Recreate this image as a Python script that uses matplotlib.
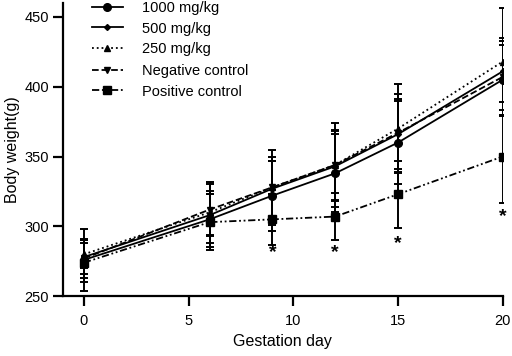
import matplotlib.pyplot as plt
from matplotlib.lines import Line2D

days = [0, 6, 9, 12, 15, 20]

w1000 = [276, 305, 322, 338, 360, 405]
w500 = [278, 308, 327, 343, 366, 411]
w250 = [280, 310, 328, 344, 370, 418]
wneg = [277, 312, 328, 344, 367, 407]
wpos = [274, 303, 305, 307, 323, 350]

sd1000 = [22, 20, 25, 28, 30, 25]
sd500 = [12, 15, 20, 25, 25, 22]
sd250 = [10, 22, 27, 30, 32, 38]
sdneg = [14, 18, 22, 25, 28, 28]
sdpos = [14, 20, 18, 17, 24, 33]

star_x = [9, 12, 15, 20]
star_y = [281, 281, 288, 307]

plt.rcParams['font.family'] = ['Liberation Sans', 'DejaVu Sans']

fig = plt.figure(figsize=(5.12, 3.56), dpi=100)
ax = fig.add_axes([0.123, 0.168, 0.859, 0.824])

series = [
    (w1000, sd1000, "-", "o", 5.5, "1000 mg/kg"),
    (w500, sd500, "-", "D", 3, "500 mg/kg"),
    (w250, sd250, ":", "^", 5, "250 mg/kg"),
    (wneg, sdneg, "--", "v", 5, "Negative control"),
    (wpos, sdpos, (0, (4, 1.5, 1, 1.5, 1, 1.5)), "s", 5.5, "Positive control"),
]
handles = []
for y, e, ls, mk, ms, lab in series:
    ax.errorbar(days, y, yerr=e, color="black", linestyle=ls, marker=mk,
                markersize=ms, linewidth=1.3, elinewidth=1.4, capsize=3,
                capthick=1.4)
    handles.append(Line2D([], [], color="black", linestyle=ls, marker=mk,
                          markersize=ms, linewidth=1.3, label=lab))

# significance marks
for x, y in zip(star_x, star_y):
    ax.text(x, y, "*", ha="center", va="center", fontsize=14,
            fontweight="bold")

ax.set_xlim(-1, 20)
ax.set_ylim(250, 460)
ax.set_xticks([0, 5, 10, 15, 20])
ax.set_yticks([250, 300, 350, 400, 450])
ax.spines["top"].set_visible(False)
ax.spines["right"].set_visible(False)
ax.spines["left"].set_linewidth(1.6)
ax.spines["bottom"].set_linewidth(1.6)
ax.tick_params(direction="out", length=7, width=1.6, labelsize=10.5)
ax.tick_params(axis="x", pad=6)
ax.tick_params(axis="y", pad=3)
ax.set_xlabel("Gestation day", fontsize=11.5, labelpad=4)
ax.set_ylabel("Body weight(g)", fontsize=11.5, labelpad=3)

leg_kw = dict(loc="upper left", frameon=False, fontsize=10.5,
              handlelength=2.1, handletextpad=1.35, labelspacing=0.45,
              borderpad=0, borderaxespad=0)
leg1 = fig.legend(handles=handles[:3], bbox_to_anchor=(92 / 512, 1 - 1 / 356),
                  **leg_kw)
leg2 = fig.legend(handles=handles[3:], bbox_to_anchor=(92 / 512, 1 - 64 / 356),
                  **leg_kw)

plt.savefig("out.png", dpi=100)
